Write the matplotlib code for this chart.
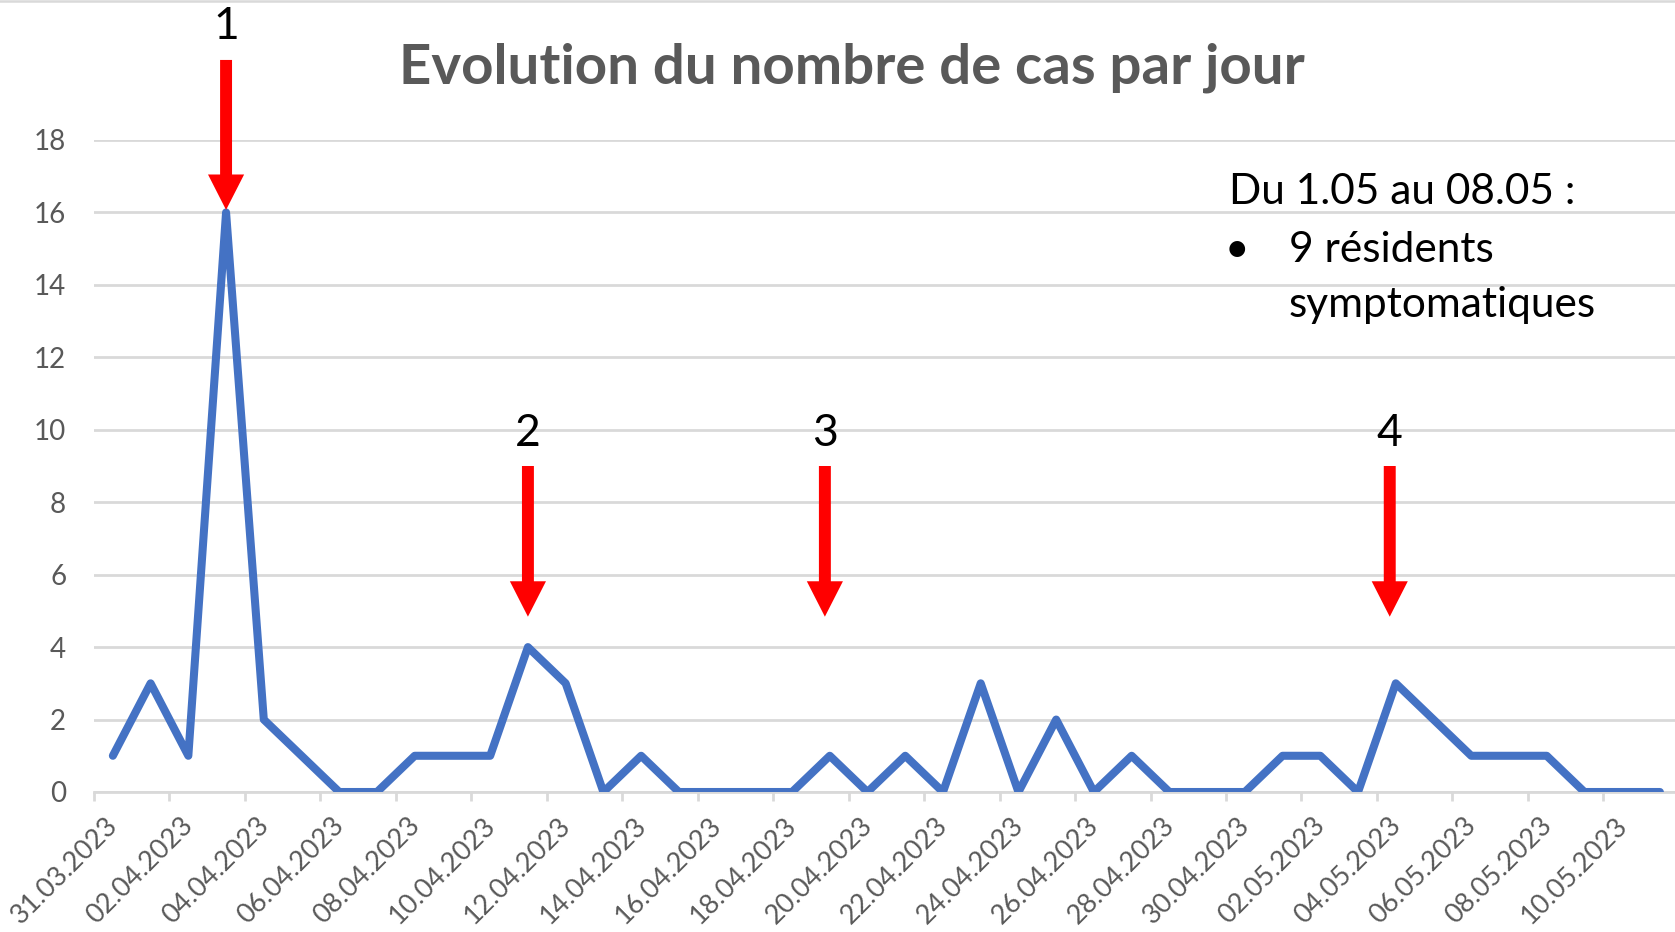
import numpy as np
import pandas as pd
import matplotlib
matplotlib.use('Agg')
import matplotlib.pyplot as plt
from matplotlib.patches import FancyArrowPatch, ArrowStyle
from matplotlib.lines import Line2D
import matplotlib.transforms as mtransforms

# ---------------- data ----------------
dates = pd.date_range('2023-03-31', '2023-05-11', freq='D')
date_labels = [d.strftime('%d.%m.%Y') for d in dates]
cas = [1, 3, 1, 16, 2, 1, 0, 0, 1, 1,
       1, 4, 3, 0, 1, 0, 0, 0, 0, 1,
       0, 1, 0, 3, 0, 2, 0, 1, 0, 0,
       0, 1, 1, 0, 3, 2, 1, 1, 1, 0,
       0, 0]
yticks = list(range(0, 20, 2))
title = "Evolution du nombre de cas par jour"

arrow_labels = ['1', '2', '3', '4']
arrow_x = [3, 11, 18.87, 33.84]
arrow_tail = [20.21, 9.0, 9.0, 9.0]
arrow_tip = [16.07, 4.84, 4.84, 4.84]
label_base = [20.78, 9.55, 9.55, 9.55]

note_title = "Du 1.05 au 08.05 :"
note_items = ["9 résidents", "symptomatiques"]

# ---------------- style ----------------
GRAY = '#595959'
GRID = '#d9d9d9'
BLUE = '#4472C4'
FONT = 'Lato'

W, H = 1675, 932
fig = plt.figure(figsize=(W / 100, H / 100), dpi=100)
fig.patch.set_facecolor('white')

ax_left = 94 / W
ax_bottom = 1 - 792 / H
ax_top = 1 - 140 / H
ax = fig.add_axes([ax_left, ax_bottom, 1 - ax_left, ax_top - ax_bottom])

x = np.arange(len(cas))
ax.plot(x, cas, color=BLUE, lw=5.8, solid_joinstyle='round',
        solid_capstyle='round', zorder=3)

ax.set_xlim(-0.5, 41.4)
ax.set_ylim(0, 18)

for s in ['top', 'right', 'left']:
    ax.spines[s].set_visible(False)
ax.spines['bottom'].set_color(GRID)
ax.spines['bottom'].set_linewidth(2)
ax.spines['bottom'].set_zorder(1)

ax.set_yticks(yticks)
ax.set_yticklabels([str(v) for v in yticks], fontsize=20, color=GRAY,
                   family=FONT)
ax.tick_params(axis='y', length=0, pad=20)
ax.yaxis.grid(True, color=GRID, lw=2, zorder=0)
ax.set_axisbelow(True)

major = list(range(0, len(cas), 2))
ax.set_xticks(major)
ax.set_xticklabels([date_labels[i] for i in major], fontsize=19.5, color=GRAY,
                   family=FONT, rotation=45, ha='right', va='center',
                   rotation_mode='anchor')
ax.tick_params(axis='x', which='major', length=0, pad=21)
ax.set_xticks(np.arange(-0.5, 41.4, 2), minor=True)
ax.tick_params(axis='x', which='minor', length=6.5, width=2, color=GRID,
               direction='out')
offset = mtransforms.ScaledTranslation(1 / 100, 0, fig.dpi_scale_trans)
for lab in ax.get_xticklabels():
    lab.set_transform(lab.get_transform() + offset)

# arrows & numbers
style = ArrowStyle.Simple(head_length=25.5, head_width=26, tail_width=8.6)
for lx, t0, t1, lb, txt in zip(arrow_x, arrow_tail, arrow_tip, label_base,
                               arrow_labels):
    p = FancyArrowPatch((lx, t0), (lx, t1), arrowstyle=style,
                        mutation_scale=1, color='#ff0000', lw=0,
                        shrinkA=0, shrinkB=0, zorder=5)
    p.set_clip_on(False)
    ax.add_patch(p)
    ax.text(lx, lb, txt, ha='center', va='baseline', fontsize=32,
            color='black', family=FONT, zorder=6)

# title
fig.text(852 / W, 1 - 83.3 / H, title, ha='center', va='baseline',
         fontsize=40.6, fontweight='bold', color=GRAY, family=FONT)

# note
NS = 30.5
fig.text(1229 / W, 1 - 204 / H, note_title, ha='left', va='baseline',
         fontsize=NS, color='black', family=FONT)
fig.text(1237 / W, 1 - 262 / H, '•', ha='center', va='baseline',
         fontsize=NS, color='black', family=FONT)
fig.text(1289 / W, 1 - 262 / H, note_items[0], ha='left', va='baseline',
         fontsize=NS, color='black', family=FONT)
fig.text(1289 / W, 1 - 317 / H, note_items[1], ha='left', va='baseline',
         fontsize=NS, color='black', family=FONT)

# top border
fig.add_artist(Line2D([0, 1], [1 - 1.2 / H, 1 - 1.2 / H], color=GRID, lw=1.8,
                      transform=fig.transFigure))

fig.savefig('out.png', dpi=100, facecolor='white')
